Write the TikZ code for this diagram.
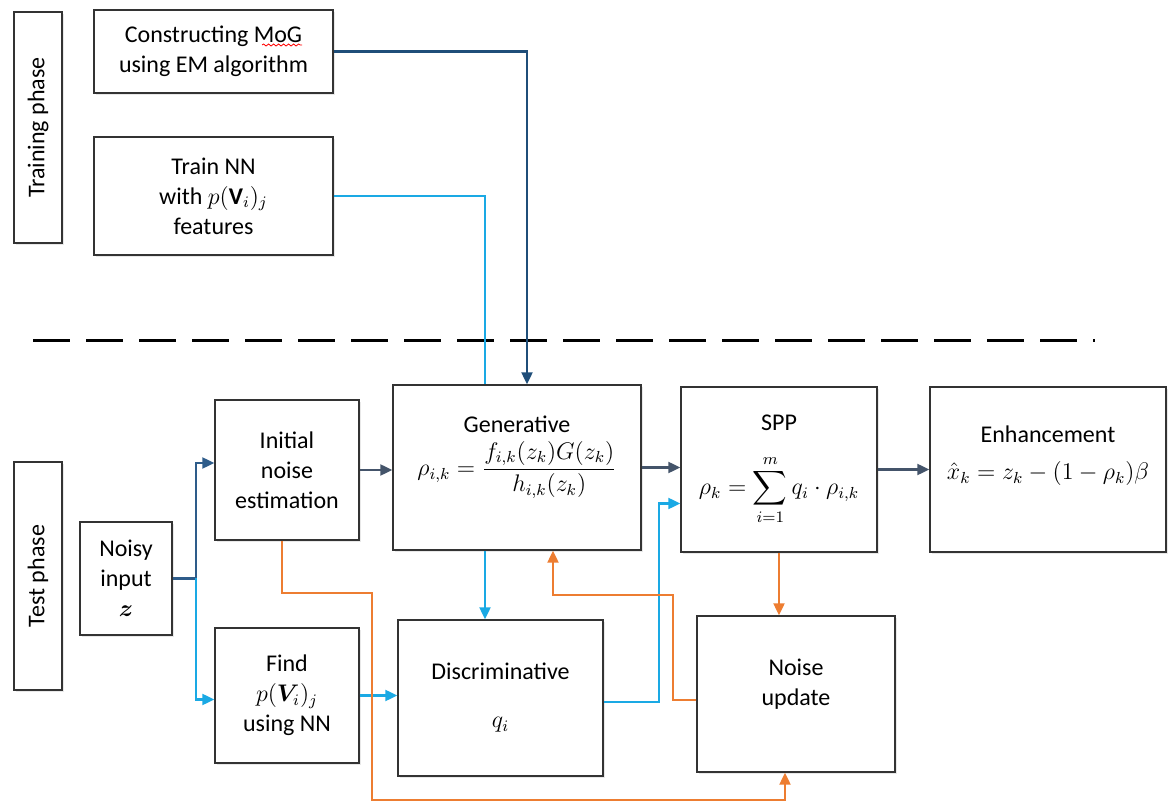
\documentclass[tikz,border=0pt]{standalone}
\usepackage{amsmath}
\usepackage{bm}
\usepackage{fontspec}
\setmainfont{Carlito}
\usetikzlibrary{arrows.meta, calc, shadows, decorations.pathmorphing}

\definecolor{mogblue}{HTML}{1F4E79}
\definecolor{slate}{HTML}{44546A}
\definecolor{inblue}{HTML}{2E5C8A}
\definecolor{skyblue}{HTML}{1AA9E4}
\definecolor{noiseorange}{HTML}{ED7D31}

\tikzset{
  box/.style={
    rectangle, draw=black!80, fill=white, line width=0.7pt,
    align=center, font=\fontsize{12}{15}\selectfont, inner sep=2pt,
    drop shadow={shadow xshift=0.8pt, shadow yshift=-0.8pt, opacity=0.18}
  },
  phase/.style={box, rotate=90, minimum height=24pt},
  txt/.style={inner sep=0pt, align=center, font=\fontsize{12}{15}\selectfont},
  tip/.style={-{Triangle[length=6pt,width=5.5pt]}},
  flow/.style={tip, line width=1.1pt, draw=slate},
  inflow/.style={tip, line width=1.1pt, draw=inblue},
  mogline/.style={tip, line width=1.1pt, draw=mogblue},
  skyline/.style={line width=1.1pt, draw=skyblue},
  skyflow/.style={tip, line width=1.1pt, draw=skyblue},
  orangeflow/.style={tip, line width=1.1pt, draw=noiseorange},
  separator/.style={line width=1.5pt, draw=black, dash pattern=on 18.5pt off 8pt},
}

\begin{document}
\begin{tikzpicture}[x=0.5pt, y=-0.5pt]
  \useasboundingbox (0,0) rectangle (1168,807);

  % training phase
  \node[phase, minimum width=115.5pt] (trainphase) at (38,127.5) {Training phase};
  \node[box, minimum width=119.5pt, minimum height=41.5pt] (mog) at (213.5,51.5) {Constructing MoG\\using EM algorithm};
  \node[box, minimum width=119.5pt, minimum height=59pt] (trainnn) at (213.5,196) {Train NN\\with $p(\mathbf{V}_i)_j$\\features};
  \draw[red, line width=0.4pt, decorate, decoration={snake, amplitude=0.5pt, segment length=2.5pt}]
    ($(mog.center)+(48.5,-6.5)$) -- ($(mog.center)+(88.5,-6.5)$);

  \coordinate (sepl) at (33,341);
  \coordinate (sepr) at (1095,341);
  \draw[separator] (sepl) -- (sepr);

  % test phase
  \node[phase, minimum width=114pt] (testphase) at (38,576) {Test phase};
  \node[box, minimum width=46pt, minimum height=56.5pt] (noisy) at (126,578.5) {Noisy\\input\\$\bm{z}$};
  \node[box, minimum width=72pt, minimum height=70pt] (init) at (287,470) {Initial\\noise\\estimation};
  \node[box, minimum width=72pt, minimum height=67.5pt] (find) at (287,695.5) {Find\\$p(\bm{V}_i)_j$\\using NN};

  \node[box, minimum width=124pt, minimum height=82.5pt] (gen) at (517,467.5) {};
  \node[txt] (gentitle) at (517,424) {Generative};
  \node[txt] (genrho) at (517,470) {$\rho_{i,k} = \dfrac{f_{i,k}(z_k)G(z_k)}{h_{i,k}(z_k)}$};

  \node[box, minimum width=98pt, minimum height=82.5pt] (spp) at (779,469.5) {};
  \node[txt] (spptitle) at (779,423) {SPP};
  \node[txt] (spprho) at (779,490) {$\displaystyle\rho_k = \sum_{i=1}^{m} q_i\cdot\rho_{i,k}$};

  \node[box, minimum width=118pt, minimum height=82.5pt] (enh) at (1048,469.5) {};
  \node[txt] (enhtitle) at (1048,434) {Enhancement};
  \node[txt] (enhx) at (1048,474) {$\hat{x}_k = z_k - (1-\rho_k)\beta$};

  \node[box, minimum width=102.5pt, minimum height=78pt] (disc) at (500.5,698) {};
  \node[txt] (disctitle) at (500.5,671) {Discriminative};
  \node[txt] (discq) at (500.5,725) {$q_i$};

  \node[box, minimum width=99pt, minimum height=78pt] (nu) at (796,694) {};
  \node[txt] (nutext) at (796,684) {Noise\\update};

  % models from training
  \draw[mogline] (mog.east) -| ([xshift=5pt]gen.north);
  \draw[skyline] (trainnn.east) -| ([xshift=-16pt]gen.north);
  \draw[skyflow] ([xshift=-16pt]gen.south) -- ([xshift=-16pt]gen.south |- disc.north);

  % main flow
  \draw[inflow] (noisy.east) -- ++(11.5pt,0) coordinate (split) |- ([yshift=3.5pt]init.west);
  \draw[skyflow] (split) |- ([yshift=-2pt]find.west);
  \draw[flow] (init.east) -- (init.east -| gen.west);
  \draw[flow] (gen.east) -- (gen.east -| spp.west);
  \draw[flow] (spp.east) -- (spp.east -| enh.west);
  \draw[skyflow] (find.east) -- (find.east -| disc.west);
  \draw[skyflow] ([yshift=-2pt]disc.east) -- ++(27.5pt,0) |- ([yshift=-17pt]spp.west);

  % noise feedback
  \coordinate (lowturn) at (372,800);
  \coordinate (backturn) at (673,595);
  \draw[orangeflow] ([xshift=-2.5pt]init.south) -- ++(0,-26pt) -| (lowturn) -| ([xshift=-5.5pt]nu.south);
  \draw[orangeflow] (spp.south) -- (spp.south |- nu.north);
  \draw[orangeflow] ([yshift=-3pt]nu.west) -| (backturn) -| ([xshift=18pt]gen.south);
\end{tikzpicture}
\end{document}
